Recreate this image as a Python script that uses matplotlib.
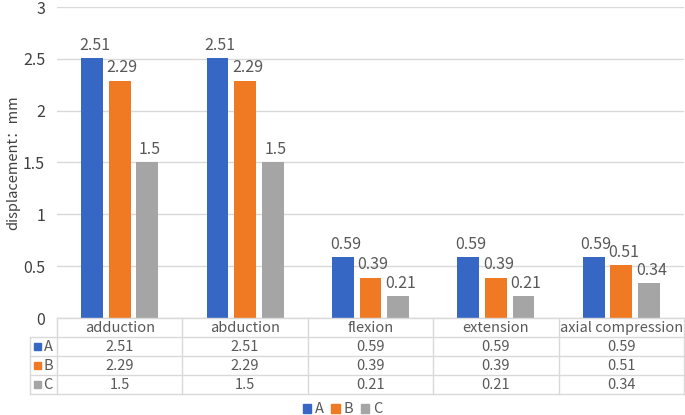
import matplotlib
matplotlib.use("Agg")
import matplotlib.pyplot as plt
from matplotlib.patches import Patch, Rectangle
import numpy as np

plt.rcParams['font.family'] = ['Noto Sans CJK SC', 'DejaVu Sans']

categories = ["adduction", "abduction", "flexion", "extension", "axial compression"]
series_names = ["A", "B", "C"]
values_A = [2.51, 2.51, 0.59, 0.59, 0.59]
values_B = [2.29, 2.29, 0.39, 0.39, 0.51]
values_C = [1.5, 1.5, 0.21, 0.21, 0.34]
colors = ["#3767C4", "#F07A24", "#A5A5A5"]

W, H = 685, 415
fig = plt.figure(figsize=(W / 100, H / 100), dpi=100)

# plot area in pixels
left, right, top, bottom = 57, 684, 7, 318
ax = fig.add_axes([left / W, (H - bottom) / H, (right - left) / W, (bottom - top) / H])

x = np.arange(len(categories))
bw = 0.175
off = 0.22
all_vals = [values_A, values_B, values_C]
for i, vals in enumerate(all_vals):
    bars = ax.bar(x + (i - 1) * off, vals, bw, color=colors[i], zorder=3)
    for b, v in zip(bars, vals):
        ax.text(b.get_x() + b.get_width() / 2 + 0.02, v + 0.04, f"{v:g}", ha="center", va="bottom",
                fontsize=11.5, color="#595959")

ax.set_xlim(-0.5, len(categories) - 0.5)
ax.set_ylim(0, 3)
ax.set_yticks(np.arange(0, 3.01, 0.5))
ax.set_yticklabels(["0", "0.5", "1", "1.5", "2", "2.5", "3"])
ax.tick_params(axis="y", length=0, pad=8.5, labelsize=11.5, labelcolor="#404040")
ax.set_xticks([])
ax.grid(axis="y", color="#D9D9D9", linewidth=1, zorder=0)
for s in ax.spines.values():
    s.set_visible(False)
ax.set_ylabel("displacement：mm", fontsize=10.5, color="#404040")
ax.yaxis.set_label_coords(-(left - 20) / (right - left), 0.5)

# data table below
tb_top, tb_bottom = 318, 394
tab = fig.add_axes([left / W, (H - tb_bottom) / H, (right - left) / W, (tb_bottom - tb_top) / H])
tab.set_xlim(-0.5, len(categories) - 0.5)
tab.set_ylim(4, 0)
tab.axis("off")
lc = "#D9D9D9"
px = len(categories) / (right - left)        # data units per pixel (x)
py = 4 / (tb_bottom - tb_top)                 # data units per pixel (y)
lab_left = -0.5 - (left - 30) * px
tab.plot([-0.5, len(categories) - 0.5], [0, 0], color=lc, lw=1, clip_on=False)
for r in range(1, 5):
    tab.plot([lab_left, len(categories) - 0.5], [r, r], color=lc, lw=1, clip_on=False)
for c in range(len(categories) + 1):
    tab.plot([c - 0.5, c - 0.5], [0, 4], color=lc, lw=1, clip_on=False)
tab.plot([lab_left, lab_left], [1, 4], color=lc, lw=1, clip_on=False)

for j, cat in enumerate(categories):
    tab.text(j, 0.5, cat, ha="center", va="center", fontsize=10.5, color="#595959")
    for i, vals in enumerate(all_vals):
        tab.text(j, i + 1.5, f"{vals[j]:g}", ha="center", va="center", fontsize=10.5, color="#595959")

for i, name in enumerate(series_names):
    tab.add_patch(Rectangle((lab_left + 4 * px, i + 1.5 - 3.5 * py), 7 * px, 7 * py,
                            color=colors[i], clip_on=False))
    tab.text(lab_left + 13.5 * px, i + 1.5, name, ha="left", va="center", fontsize=10.5,
             color="#595959", clip_on=False)

handles = [Patch(color=c) for c in colors]
fig.legend(handles, series_names, loc="lower center", bbox_to_anchor=(0.5, -0.035), ncol=3,
           frameon=False, handlelength=0.6, handleheight=0.6, handletextpad=0.25, columnspacing=0.5,
           fontsize=10.5, labelcolor="#595959")

fig.savefig("out.png", dpi=100)
